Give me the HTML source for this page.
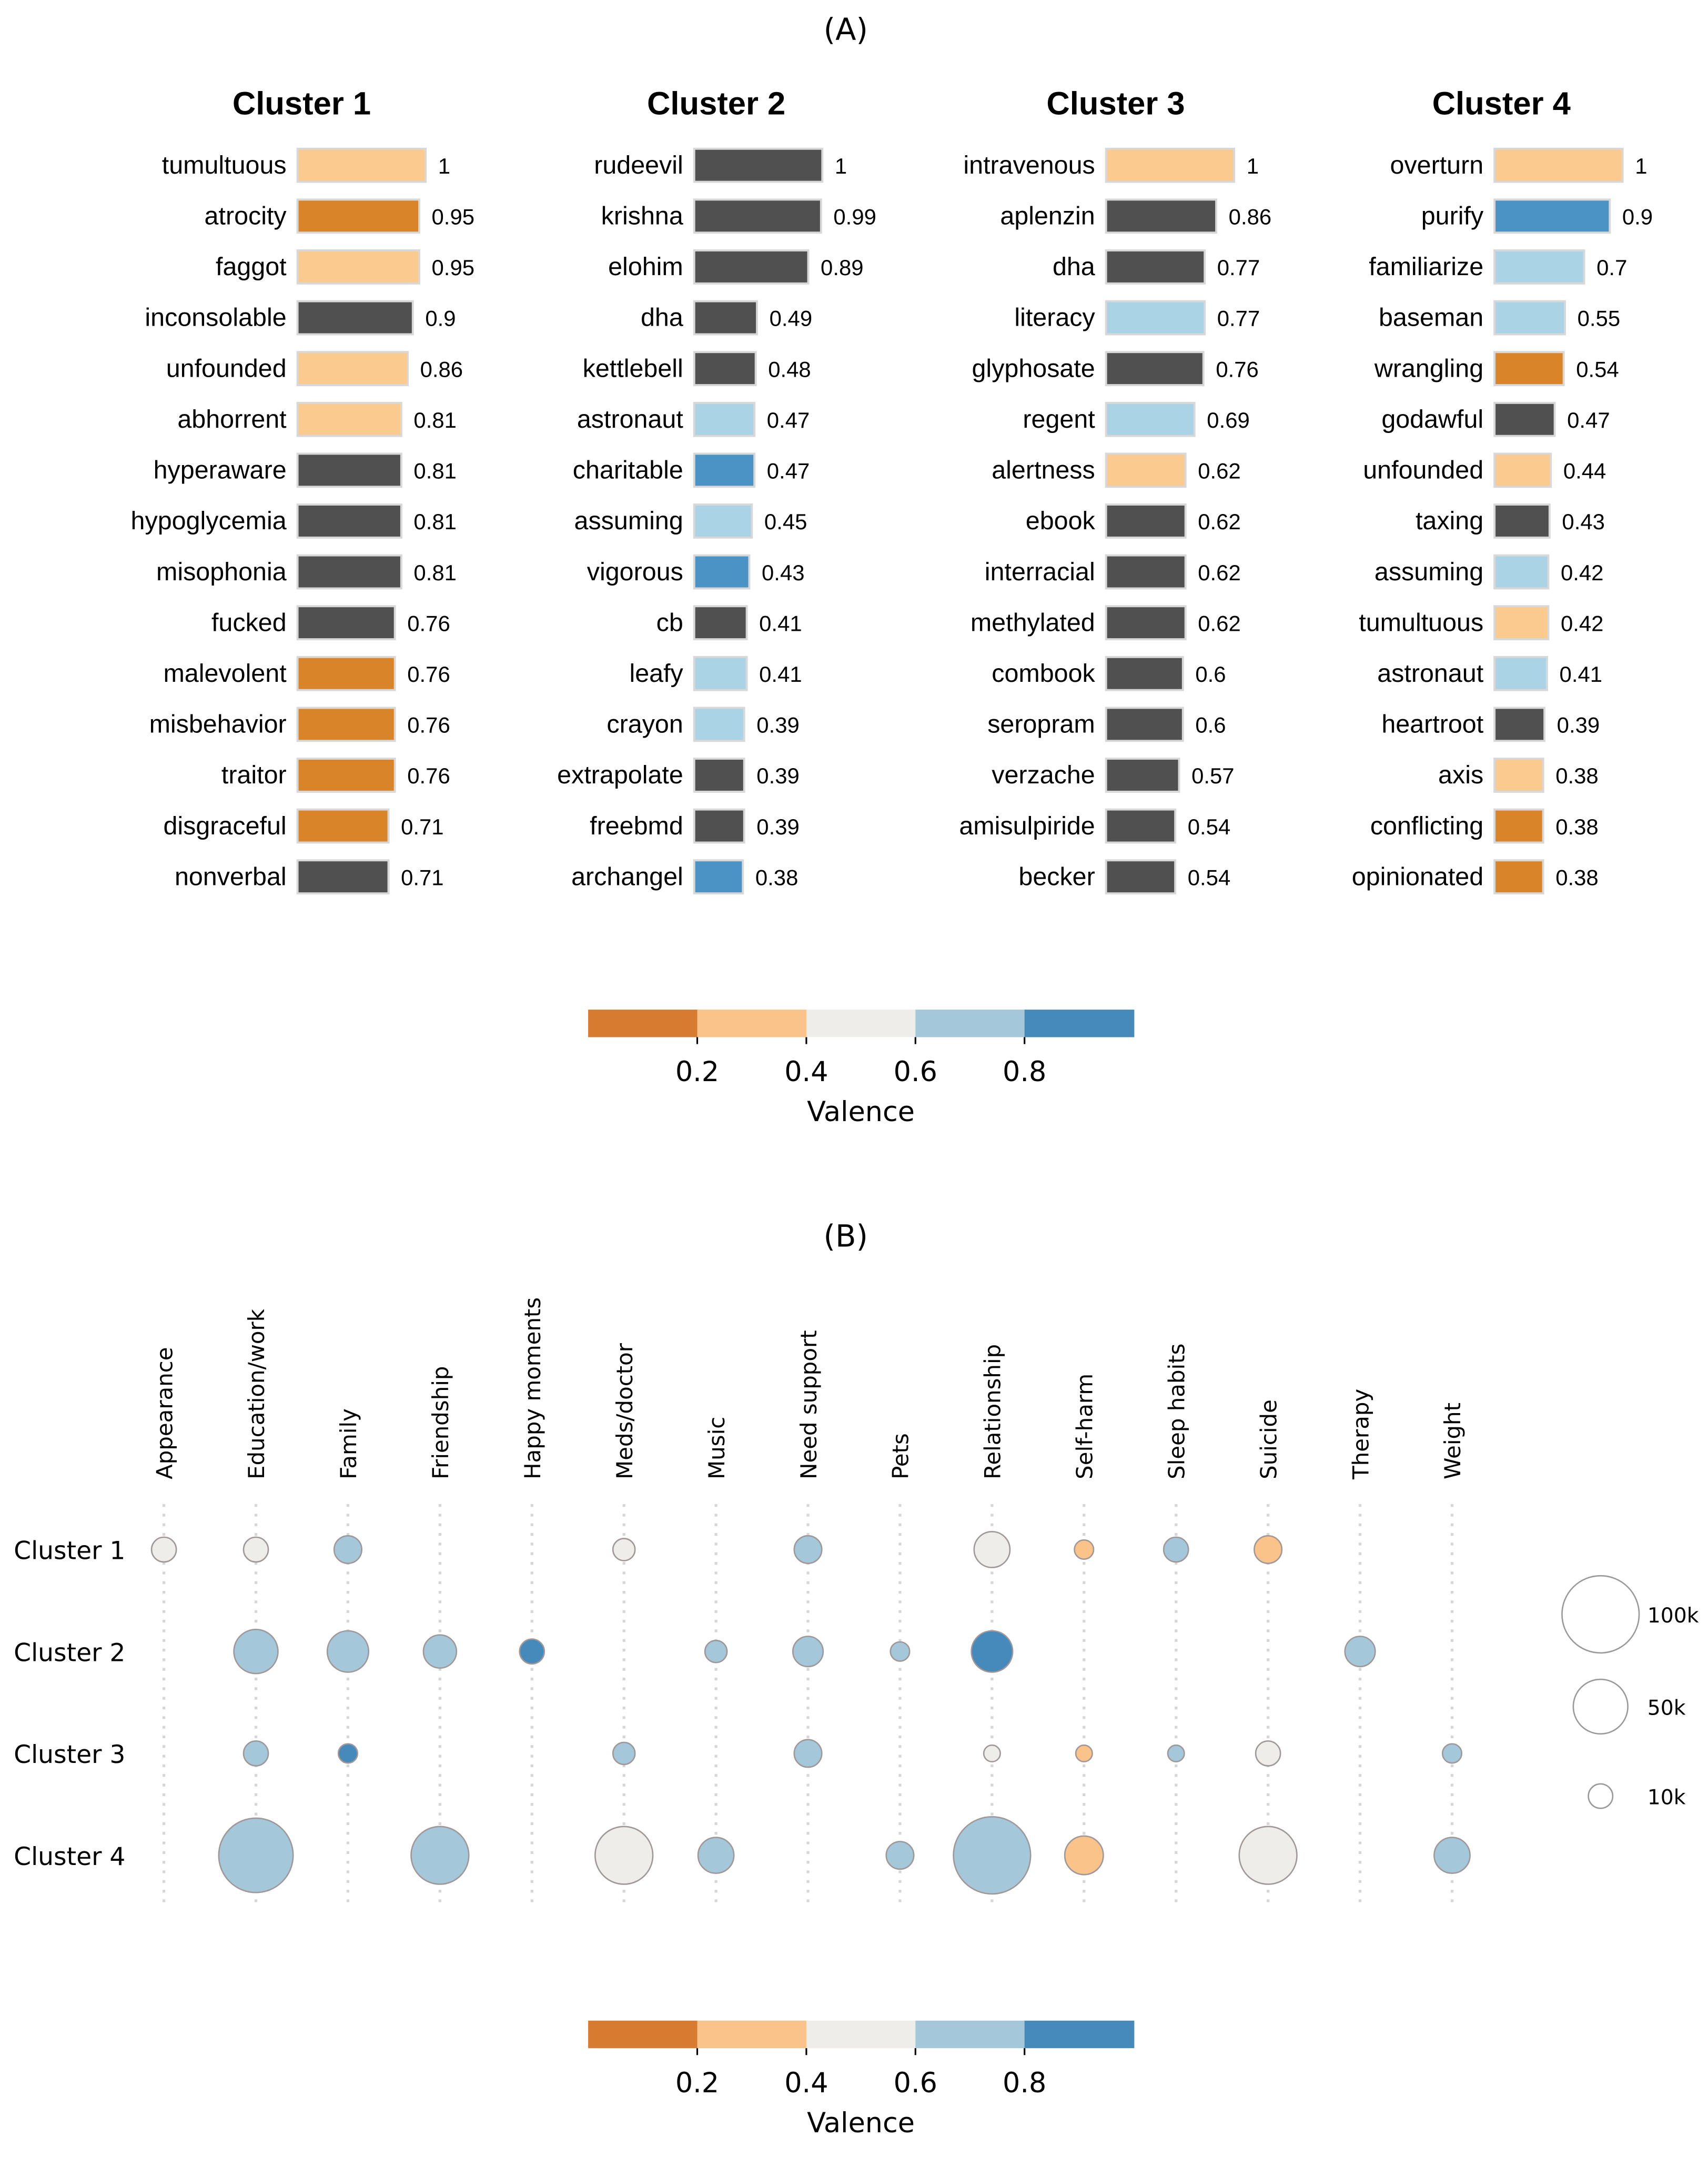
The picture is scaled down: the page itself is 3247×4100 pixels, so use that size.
<!DOCTYPE html>
<html><head><meta charset="utf-8"><style>
html,body{margin:0;padding:0;background:#fff;}
svg{display:block;}
.lab{font-family:"Liberation Sans",sans-serif;}
.dv{font-family:"DejaVu Sans",sans-serif;}
</style></head><body>
<svg id="fig" width="3247" height="4100" viewBox="0 0 1240 1566" preserveAspectRatio="none" xmlns="http://www.w3.org/2000/svg">
<text x="614" y="29" text-anchor="middle" class="dv" font-size="22">(A)</text>
<text x="614" y="905" text-anchor="middle" class="dv" font-size="22">(B)</text>
</svg>
<script>
const NS='http://www.w3.org/2000/svg';
const svg=document.getElementById('fig');
function mk(tag,attrs,parent){const e=document.createElementNS(NS,tag);for(const k in attrs)e.setAttribute(k,attrs[k]);(parent||svg).appendChild(e);return e;}

// Panel A data
const clusterTitles=['Cluster 1','Cluster 2','Cluster 3','Cluster 4'];
const words1=['tumultuous','atrocity','faggot','inconsolable','unfounded','abhorrent','hyperaware','hypoglycemia','misophonia','fucked','malevolent','misbehavior','traitor','disgraceful','nonverbal'];
const vals1=[1,0.95,0.95,0.9,0.86,0.81,0.81,0.81,0.81,0.76,0.76,0.76,0.76,0.71,0.71];
const cols1=['LO','DO','LO','G','LO','LO','G','G','G','G','DO','DO','DO','DO','G'];
const words2=['rudeevil','krishna','elohim','dha','kettlebell','astronaut','charitable','assuming','vigorous','cb','leafy','crayon','extrapolate','freebmd','archangel'];
const vals2=[1,0.99,0.89,0.49,0.48,0.47,0.47,0.45,0.43,0.41,0.41,0.39,0.39,0.39,0.38];
const cols2=['G','G','G','G','G','LB','B','LB','B','G','LB','LB','G','G','B'];
const words3=['intravenous','aplenzin','dha','literacy','glyphosate','regent','alertness','ebook','interracial','methylated','combook','seropram','verzache','amisulpiride','becker'];
const vals3=[1,0.86,0.77,0.77,0.76,0.69,0.62,0.62,0.62,0.62,0.6,0.6,0.57,0.54,0.54];
const cols3=['LO','G','G','LB','G','LB','LO','G','G','G','G','G','G','G','G'];
const words4=['overturn','purify','familiarize','baseman','wrangling','godawful','unfounded','taxing','assuming','tumultuous','astronaut','heartroot','axis','conflicting','opinionated'];
const vals4=[1,0.9,0.7,0.55,0.54,0.47,0.44,0.43,0.42,0.42,0.41,0.39,0.38,0.38,0.38];
const cols4=['LO','B','LB','LB','DO','G','LO','G','LB','LO','LB','G','LO','DO','DO'];
const barColor={DO:'#da8429',LO:'#fbca8e',G:'#505050',LB:'#abd3e6',B:'#4a93c5'};

const panelLeft=[216,504,803,1085];
const titleX=[219,520,810,1090];
const allWords=[words1,words2,words3,words4],allVals=[vals1,vals2,vals3,vals4],allCols=[cols1,cols2,cols3,cols4];
const barMax=93,rowY0=120,rowStep=36.9,barH=24;
function xBar(v){return v*barMax;}
for(let c=0;c<4;c++){
  const t=mk('text',{x:titleX[c],y:83,'text-anchor':'middle','font-size':23.5,'font-weight':'bold',class:'lab'});
  
  
  t.textContent=clusterTitles[c];
  const g=mk('g',{});
  
  
  for(let i=0;i<allWords[c].length;i++){
    const y=rowY0+i*rowStep, v=allVals[c][i], w=xBar(v);
    const r=mk('rect',{x:panelLeft[c],y:y-barH/2,width:w,height:barH,fill:barColor[allCols[c][i]],stroke:'#d8d8d8','stroke-width':1.5},g);
    
    
    const l=mk('text',{x:panelLeft[c]-8,y:y+6,'text-anchor':'end','font-size':18.5,class:'lab'},g);
    
    
    l.textContent=allWords[c][i];
    const vt=mk('text',{x:panelLeft[c]+w+9,y:y+6,'font-size':16,class:'lab'},g);
    
    
    vt.textContent=String(v);
  }
}

// colorbars
const cbColors=['#d67b30','#f9c38a','#efedea','#a4c7da','#458abb'];
const cbTicks=['0.2','0.4','0.6','0.8'];
function colorbar(y,idx){
  const g=mk('g',{});
  
  
  const x0=427,w=79.2;
  cbColors.forEach((c,i)=>{mk('rect',{x:x0+i*w,y:y,width:w+0.5,height:20,fill:c},g);});
  cbTicks.forEach((t,i)=>{
    const x=x0+(i+1)*w;
    mk('line',{x1:x,x2:x,y1:y+20,y2:y+25,stroke:'#000','stroke-width':1.2},g);
    const tx=mk('text',{x:x,y:y+52,'text-anchor':'middle','font-size':20,class:'dv'},g);
    
    
    tx.textContent=t;
  });
  const vl=mk('text',{x:625,y:y+81,'text-anchor':'middle','font-size':20,class:'dv'},g);
  
  
  vl.textContent='Valence';
}
colorbar(733,'a');
colorbar(1467,'b');

// Panel B data
const topics=['Appearance','Education/work','Family','Friendship','Happy moments','Meds/doctor','Music','Need support','Pets','Relationship','Self-harm','Sleep habits','Suicide','Therapy','Weight'];
const rowsB=['Cluster 1','Cluster 2','Cluster 3','Cluster 4'];
// bubble entries: [topicIndex, count(k), valence]
const bub1=[[0,10.3,0.5],[1,10.3,0.5],[2,12.8,0.7],[5,8.2,0.5],[7,12.8,0.7],[9,21.6,0.5],[10,6.2,0.3],[11,10.3,0.7],[12,12.8,0.3]];
const bub2=[[1,32.7,0.7],[2,28.7,0.7],[3,18.4,0.7],[4,10.3,0.9],[6,8.2,0.7],[7,15.4,0.7],[8,6.2,0.7],[9,28.7,0.9],[13,15.4,0.7]];
const bub3=[[1,10.3,0.7],[2,6.2,0.9],[5,8.2,0.7],[7,12.8,0.7],[9,4.6,0.5],[10,4.6,0.3],[11,4.6,0.7],[12,10.3,0.5],[14,6.2,0.7]];
const bub4=[[1,93,0.7],[3,56,0.7],[5,56,0.5],[6,21.6,0.7],[8,12.8,0.7],[9,100,0.7],[10,25,0.3],[12,56,0.5],[14,21.6,0.7]];
const legendVals=[100,50,10];
const legendLabels=['100k','50k','10k'];

const colX0=119,colStep=66.8,rowYB0=1125,rowStepB=74,rMax=28;
function xCol(i){return colX0+i*colStep;}
function yRow(i){return rowYB0+i*rowStepB;}
function rSize(v){return rMax*Math.sqrt(v/100);}
function vColor(v){return cbColors[Math.min(4,Math.floor(v/0.2))];}

topics.forEach((t,i)=>{
  const x=xCol(i);
  const ln=mk('line',{x1:x,x2:x,y1:1092,y2:1384,stroke:'#d6d6d6','stroke-width':2,'stroke-dasharray':'2,5'});
  
  
  const tx=mk('text',{x:0,y:0,transform:'translate('+(x+6)+',1074) rotate(-90)','font-size':16,class:'dv'});
  
  
  tx.textContent=t;
});
rowsB.forEach((t,i)=>{
  const tx=mk('text',{x:10,y:yRow(i)+7,'font-size':18,class:'dv'});
  
  
  tx.textContent=t;
});
[bub1,bub2,bub3,bub4].forEach((arr,ri)=>{
  arr.forEach(b=>{
    const c=mk('circle',{cx:xCol(b[0]),cy:yRow(ri),r:rSize(b[1]),fill:vColor(b[2]),stroke:'#a09898','stroke-width':1});
    
    
  });
});
const legY=[1172,1239,1304];
legendVals.forEach((v,i)=>{
  const c=mk('circle',{cx:1162,cy:legY[i],r:rSize(v),fill:'#fff',stroke:'#999','stroke-width':1});
  
  
  const t=mk('text',{x:1196,y:legY[i]+6,'font-size':15,class:'dv'});
  
  
  t.textContent=legendLabels[i];
});
</script>
</body></html>
